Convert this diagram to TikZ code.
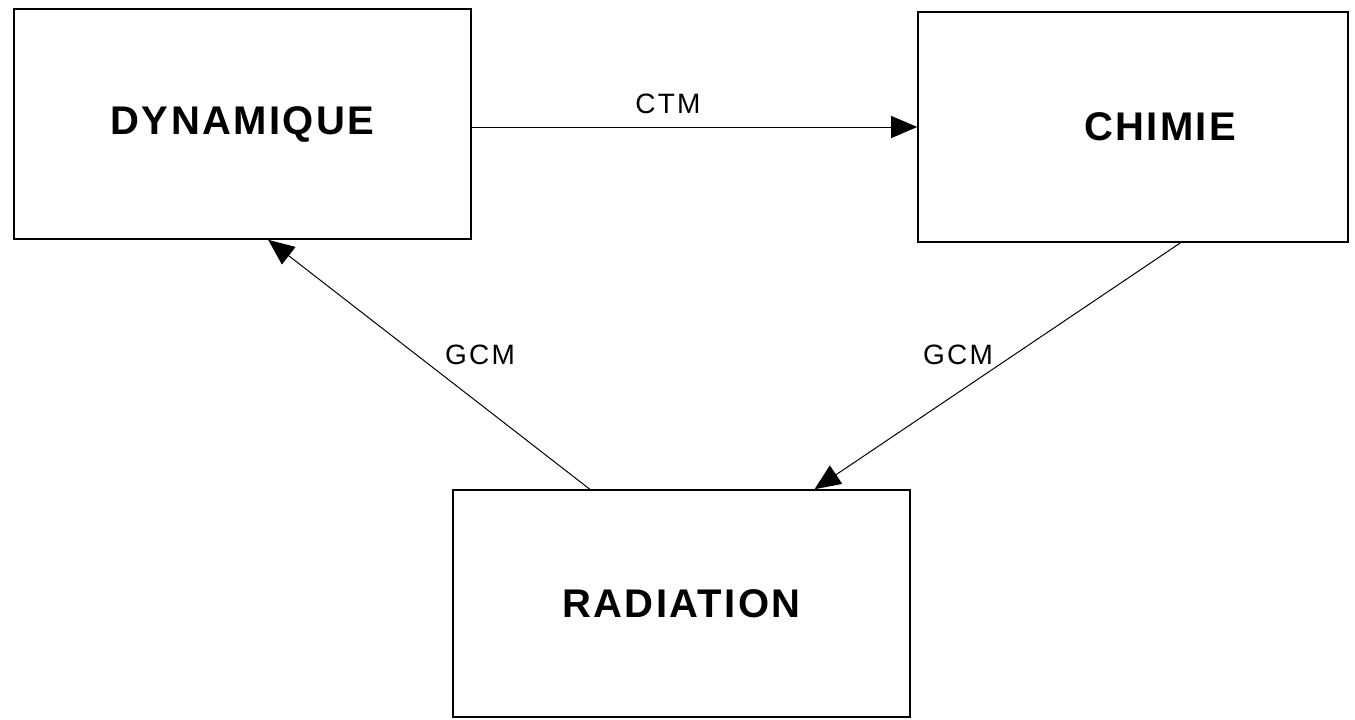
\documentclass[tikz,border=0pt]{standalone}
\usepackage{fontspec}
\setmainfont{Liberation Sans}
\usetikzlibrary{arrows.meta,calc}
\tikzset{
  bloc/.style={draw,line width=0.8pt,rectangle,minimum width=228.5pt,minimum height=115pt,
    font=\fontsize{20}{22}\selectfont\bfseries\addfontfeatures{LetterSpace=6}},
  lien/.style={line width=0.5pt,-{Triangle[length=13pt,width=11pt]}},
  etiq/.style={font=\fontsize{14}{16}\selectfont\addfontfeatures{LetterSpace=8}}
}
\begin{document}
\begin{tikzpicture}[x=0.5pt,y=-0.5pt]
\useasboundingbox (0,0) rectangle (1355,719);
\node[bloc] (dyn) at (242.5,124) {\raisebox{3pt}{DYNAMIQUE}};
\node[bloc,minimum width=215pt] (chim) at (1133,127) {\hspace{27pt}CHIMIE};
\node[bloc,minimum height=113.5pt] (rad) at (681.5,603.5) {RADIATION};
% les fleches
\draw[lien] (dyn.east |- chim.west) -- (chim.west);
\draw[lien] ($(rad.north west)!0.30!(rad.north east)$) -- ($(dyn.south west)!0.556!(dyn.south east)$);
\draw[lien] ($(chim.south west)!0.61!(chim.south east)$) -- ($(rad.north west)!0.79!(rad.north east)$);
\node[etiq] (ctm) at (668,104) {CTM};
\node[etiq] (gcmg) at (480,355) {GCM};
\node[etiq] (gcmd) at (958,355) {GCM};
\end{tikzpicture}
\end{document}
